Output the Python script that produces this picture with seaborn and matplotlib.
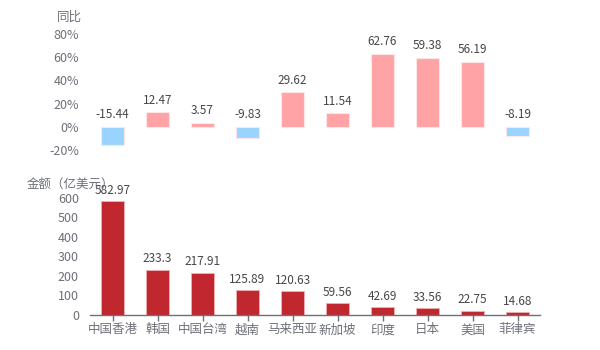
import matplotlib
matplotlib.use("Agg")
import matplotlib.pyplot as plt
import seaborn as sns
import pandas as pd
import numpy as np

categories = ["中国香港", "韩国", "中国台湾", "越南", "马来西亚", "新加坡", "印度", "日本", "美国", "菲律宾"]
yoy = [-15.44, 12.47, 3.57, -9.83, 29.62, 11.54, 62.76, 59.38, 56.19, -8.19]
amount = [582.97, 233.3, 217.91, 125.89, 120.63, 59.56, 42.69, 33.56, 22.75, 14.68]
yoy_ticks = [-20, 0, 20, 40, 60, 80]
amount_ticks = [0, 100, 200, 300, 400, 500, 600]

sns.set_theme(style="white")
plt.rcParams["font.family"] = ["Noto Sans CJK SC", "DejaVu Sans"]

TICK = "#6e7079"
LABEL = "#464646"
POS = "#ffa3a6"
NEG = "#99d3ff"
RED = "#c1272f"

fig = plt.figure(figsize=(6, 3.5), dpi=100)
ax1 = fig.add_axes([0.15, 0.5714, 0.75, 0.3315])
ax2 = fig.add_axes([0.15, 0.10, 0.75, 0.3343])

df1 = pd.DataFrame({"cat": categories, "v": yoy,
                    "sign": ["pos" if v >= 0 else "neg" for v in yoy]})
sns.barplot(data=df1, x="cat", y="v", hue="sign", dodge=False, saturation=1,
            palette={"pos": POS, "neg": NEG}, width=0.49,
            edgecolor="#ffe6e6", linewidth=0.8, legend=False, ax=ax1)
ax1.set_ylim(-20, 80)
ax1.set_xlim(-0.5, len(categories) - 0.5)
ax1.set_yticks(yoy_ticks)
ax1.set_yticklabels([f"{t}%" for t in yoy_ticks])
ax1.set_xticks([])
ax1.set_xlabel("")
ax1.set_ylabel("")
for s in ax1.spines.values():
    s.set_visible(False)
ax1.tick_params(axis="y", colors=TICK, labelsize=9, length=0, pad=8)
for i, v in enumerate(yoy):
    ax1.annotate(f"{v:g}", (i, max(v, 0)), xytext=(0, 4), textcoords="offset points",
                 ha="center", va="bottom", fontsize=8.5, color=LABEL)
ax1.annotate("同比", (0, 1), xycoords="axes fraction", xytext=(-6, 7),
             textcoords="offset points", ha="right", va="bottom",
             fontsize=9, color=TICK)

df2 = pd.DataFrame({"cat": categories, "v": amount})
sns.barplot(data=df2, x="cat", y="v", color=RED, width=0.49, saturation=1,
            edgecolor="#f0b0b3", linewidth=0.6, ax=ax2)
ax2.set_ylim(0, 600)
ax2.set_xlim(-0.5, len(categories) - 0.5)
ax2.set_yticks(amount_ticks)
ax2.set_xlabel("")
ax2.set_ylabel("")
for k in ["top", "right", "left"]:
    ax2.spines[k].set_visible(False)
ax2.spines["bottom"].set_color(TICK)
ax2.spines["bottom"].set_linewidth(1)
ax2.tick_params(axis="y", colors=TICK, labelsize=9, length=0, pad=8)
ax2.tick_params(axis="x", colors=TICK, labelsize=9, length=4, width=1, pad=2,
                bottom=True, direction="out")
for i, v in enumerate(amount):
    ax2.annotate(f"{v:g}", (i, v), xytext=(0, 3), textcoords="offset points",
                 ha="center", va="bottom", fontsize=8.5, color=LABEL)
ax2.annotate("金额（亿美元）", (0, 1), xycoords="axes fraction", xytext=(-46, 5),
             textcoords="offset points", ha="left", va="bottom",
             fontsize=9, color=TICK)

fig.savefig("out.png", dpi=100, facecolor="white")
